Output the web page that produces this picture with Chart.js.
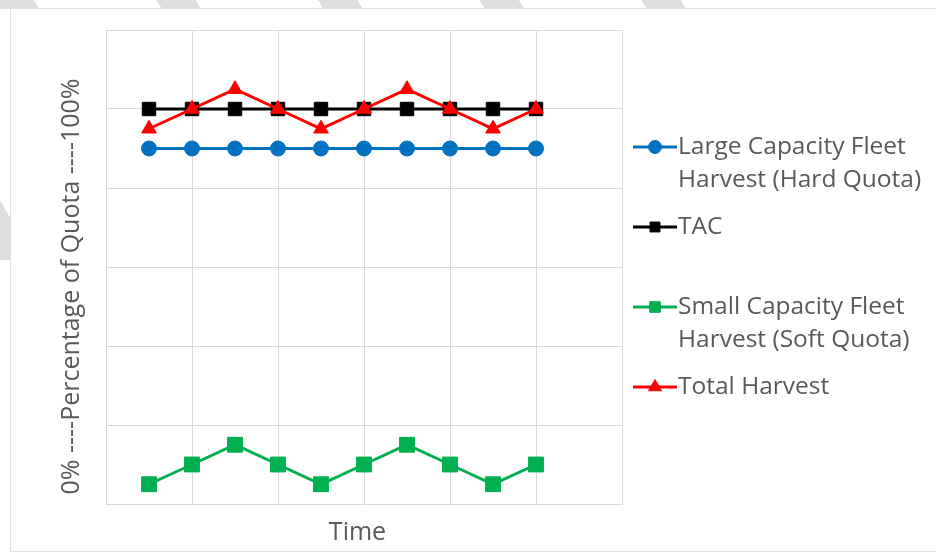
<!DOCTYPE html>
<html lang="en">
<head>
<meta charset="UTF-8">
<title>Percentage of Quota</title>
<script src="https://cdn.jsdelivr.net/npm/chart.js"></script>
<style>
  body { margin: 0; width: 936px; height: 557px; overflow: hidden; position: relative; background: #fff; }
  .stripes-top { position: absolute; left: 0; top: 0; width: 730px; height: 9px;
    background: repeating-linear-gradient(60deg, #dedede 0 34px, transparent 34px 140px); }
  .stripes-left { position: absolute; left: 0; top: 0; width: 11px; height: 260px;
    background: repeating-linear-gradient(60deg, #dedede 0 30px, transparent 30px 180px); }
  .frame { position: absolute; left: 10px; top: 8px; width: 940px; height: 542px;
    border: 1px solid #e2e2e2; background: #fff; }
  canvas { position: absolute; left: 0; top: 0; }
</style>
</head>
<body>
  <div class="stripes-top"></div>
  <div class="stripes-left"></div>
  <div class="frame"></div>
  <canvas id="quotaChart" width="936" height="557"></canvas>

<script>
  // valores (percentagem da quota)
  const timePoints = [1, 2, 3, 4, 5, 6, 7, 8, 9, 10];
  const largeFleet = [90, 90, 90, 90, 90, 90, 90, 90, 90, 90];
  const tac = [100, 100, 100, 100, 100, 100, 100, 100, 100, 100];
  const smallFleet = [5, 10, 15, 10, 5, 10, 15, 10, 5, 10];
  const totalHarvest = [95, 100, 105, 100, 95, 100, 105, 100, 95, 100];

  const legendLines = [
    ['Large Capacity Fleet', 'Harvest (Hard Quota)'],
    ['TAC'],
    ['Small Capacity Fleet', 'Harvest (Soft Quota)'],
    ['Total Harvest']
  ];
  const legendRadius = [6.5, 7, 7.5, 7.5];

  function pontos(valores) {
    return timePoints.map(function (t, i) { return { x: t, y: valores[i] }; });
  }

  function serie(i, valores, cor, estilo, raio, ordem) {
    return {
      label: legendLines[i].join(' '),
      data: pontos(valores),
      borderColor: cor,
      backgroundColor: cor,
      pointBackgroundColor: cor,
      pointBorderColor: cor,
      borderWidth: 3,
      pointStyle: estilo,
      pointRadius: raio,
      pointHoverRadius: raio,
      pointBorderWidth: 1,
      tension: 0,
      order: ordem
    };
  }

  // legenda desenhada a mao porque os textos quebram em duas linhas
  const seriesLegend = {
    id: 'seriesLegend',
    afterDraw(chart) {
      const ctx = chart.ctx;
      ctx.save();
      chart.data.datasets.forEach(function (ds, i) {
        const y = 147 + i * 80;
        ctx.strokeStyle = ds.borderColor;
        ctx.lineWidth = 3;
        ctx.beginPath();
        ctx.moveTo(633, y);
        ctx.lineTo(677, y);
        ctx.stroke();

        ctx.fillStyle = ds.pointBackgroundColor;
        ctx.strokeStyle = ds.pointBorderColor;
        ctx.lineWidth = 1;
        Chart.helpers.drawPoint(ctx, { pointStyle: ds.pointStyle, radius: legendRadius[i], borderWidth: 1, rotation: 0 }, 655, y);

        ctx.fillStyle = '#595959';
        ctx.font = '24.5px "Open Sans"';
        ctx.textBaseline = 'middle';
        ctx.textAlign = 'left';
        legendLines[i].forEach(function (linha, j) {
          ctx.fillText(linha, 678, y + j * 33);
        });
      });
      ctx.restore();
    }
  };

  const gridCor = '#d9d9d9';

  const config = {
    type: 'line',
    data: {
      datasets: [
        serie(0, largeFleet, '#0070C0', 'circle', 7.5, 3),
        serie(1, tac, '#000000', 'rect', 9.5, 2),
        serie(2, smallFleet, '#00B050', 'rect', 10.5, 1),
        serie(3, totalHarvest, '#FF0000', 'triangle', 8.5, 0)
      ]
    },
    options: {
      responsive: false,
      animation: false,
      devicePixelRatio: 1,
      layout: { padding: { top: 30, right: 314, left: 0, bottom: 0 } },
      plugins: {
        legend: { display: false },
        tooltip: { enabled: false }
      },
      scales: {
        x: {
          type: 'linear',
          min: 0,
          max: 12,
          ticks: { display: false, stepSize: 2 },
          grid: { color: gridCor, drawTicks: false },
          border: { color: gridCor },
          title: {
            display: true,
            text: 'Time  ',
            color: '#595959',
            font: { family: 'Open Sans', size: 25 },
            padding: { top: 0, bottom: 9 }
          },
          afterFit: function (scale) { scale.height = 53; }
        },
        y: {
          min: 0,
          max: 120,
          ticks: { display: false, stepSize: 20 },
          grid: { color: gridCor, drawTicks: false },
          border: { color: gridCor },
          title: {
            display: true,
            text: '0% ----Percentage of Quota ----100%      ',
            color: '#595959',
            font: { family: 'Open Sans', size: 25 },
            padding: { top: 57, bottom: 0 }
          },
          afterFit: function (scale) { scale.width = 106; }
        }
      }
    },
    plugins: [seriesLegend]
  };

  let myChart = new Chart(document.getElementById('quotaChart'), config);
</script>
</body>
</html>
